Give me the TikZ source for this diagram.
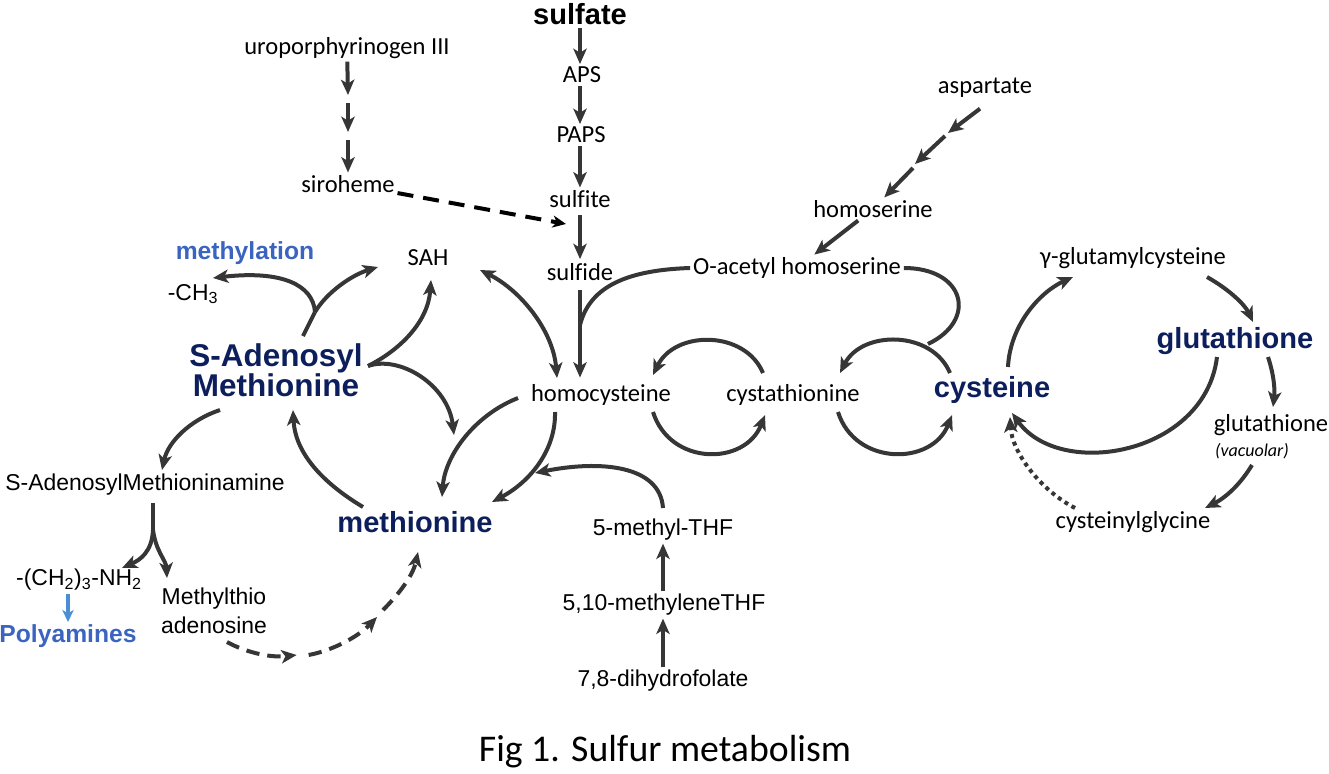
\documentclass[tikz,border=0pt]{standalone}
\usepackage{fontspec}
\setmainfont{Carlito}[Ligatures=NoCommon]
\newfontfamily\arial{Liberation Sans}
\usetikzlibrary{arrows.meta}
\definecolor{ln}{HTML}{363636}
\definecolor{navy}{HTML}{0C1E5B}
\definecolor{blu}{HTML}{3A64C0}
\definecolor{lblu}{HTML}{4A8ED6}
\begin{document}
\begin{tikzpicture}[x=0.75pt,y=-0.75pt,
  cal/.style={font=\fontsize{18.4}{20}\selectfont, inner sep=2pt},
  ari/.style={font=\arial\fontsize{17.2}{21.5}\selectfont, inner sep=2pt},
  big/.style={font=\arial\bfseries\fontsize{21.8}{22.5}\selectfont, text=navy, inner sep=2pt},
  bl/.style={font=\arial\bfseries\fontsize{18.5}{20}\selectfont, text=blu, inner sep=2pt},
  tip/.style={-{Stealth[length=11.5pt,width=10pt,inset=3pt]}},
  arr/.style={draw=ln, line width=3pt, tip},
  plain/.style={draw=ln, line width=3pt},
  dsh/.style={arr, dash pattern=on 10pt off 6pt},
  dsh2/.style={draw=black, line width=3pt, dash pattern=on 12pt off 7.5pt, -{Stealth[length=10pt,width=9pt,inset=3pt]}},
  dot/.style={arr, dash pattern=on 3pt off 3pt},
  barr/.style={draw=lblu, line width=2.6pt, -{Stealth[length=9pt,width=8.5pt,inset=2.5pt]}}
]
\useasboundingbox (0,0) rectangle (1329,774);

% ---- nodes ----
\node[font=\arial\bfseries\fontsize{21.8}{22}\selectfont, inner sep=2pt] (sulfate) at (580,14) {sulfate};
\node[cal] (aps) at (582,75) {APS};
\node[cal] (paps) at (581,135) {PAPS};
\node[cal] (sulfite) at (580,199) {sulfite};
\node[cal] (sulfide) at (580,272) {sulfide};
\node[cal] (uro) at (347,48) {uroporphyrinogen III};
\node[cal] (siro) at (348,184) {siroheme};
\node[cal] (asp) at (985,88) {aspartate};
\node[cal] (hser) at (873,209) {homoserine};
\node[cal] (oah) at (797,268) {O-acetyl homoserine};
\node[cal] (sah) at (428,258) {SAH};
\node[bl] (meth) at (245,253) {methylation};
\node[ari] (ch3) at (193,294) {-CH\textsubscript{3}};
\node[font=\arial\bfseries\fontsize{23.6}{22.5}\selectfont, text=navy, inner sep=2pt, align=center] (sam) at (276,370) {S-Adenosyl\\Methionine};
\node[cal] (hcy) at (601,395) {homocysteine};
\node[cal] (cth) at (793,395) {cystathionine};
\node[big] (cys) at (992,390) {cysteine};
\node[cal] (gec) at (1133,258) {γ-glutamylcysteine};
\node[big] (gsh) at (1235,341) {glutathione};
\node[cal] (gshv) at (1271,425) {glutathione};
\node[font=\itshape\fontsize{13.5}{15}\selectfont, inner sep=1pt] (vac) at (1252,451) {(vacuolar)};
\node[cal] (cgly) at (1133,522) {cysteinylglycine};
\node[ari] (sama) at (145,485) {S-AdenosylMethioninamine};
\node[big] (met) at (415,522) {methionine};
\node[ari] (nh2) at (79,580) {-(CH\textsubscript{2})\textsubscript{3}-NH\textsubscript{2}};
\node[bl] (poly) at (68,636) {Polyamines};
\node[ari, align=center] (mta) at (214,611) {Methylthio\\adenosine};
\node[ari] (mthf) at (663,530) {5-methyl-THF};
\node[ari] (mlthf) at (664,605) {5,10-methyleneTHF};
\node[ari] (dhf) at (663,681) {7,8-dihydrofolate};
\node[font=\fontsize{28.3}{30}\selectfont] (cap) at (665,752) {Fig 1. Sulfur metabolism};

% ---- sulfate column ----
\draw[arr] (sulfate.south) -- (sulfate.south |- aps.north);
\draw[arr] (sulfate.south |- aps.south) -- (sulfate.south |- paps.north);
\draw[arr] (sulfate.south |- paps.south) -- (sulfate.south |- sulfite.north);
\draw[arr, shorten <=3pt, shorten >=1pt] (sulfite.south) -- (sulfite.south |- sulfide.north);
\draw[arr, shorten <=5pt, shorten >=3pt] (sulfide.south) -- (sulfide.south |- hcy.north);

% ---- uroporphyrinogen chain ----
\coordinate (u1) at (348,99);
\coordinate (u2) at (348,136);
\draw[arr] (uro) -- ([yshift=3pt]u1);
\draw[arr] ([yshift=-3pt]u1) -- ([yshift=3pt]u2);
\draw[arr] ([yshift=-3pt]u2) -- (siro);
\coordinate (sfj) at (566,224);
\draw[dsh2] (siro) -- (sfj);

% ---- aspartate chain ----
\coordinate (a1) at (946,135);
\coordinate (a2) at (914,166);
\draw[arr] ([shift={(-5,8)}]asp.south) -- ([shift={(2,-2)}]a1);
\draw[arr] ([shift={(-1,1)}]a1) -- ([shift={(1,-2)}]a2);
\draw[arr] ([shift={(-1,2)}]a2) -- (hser);
\draw[arr] (hser) -- (oah);

% ---- O-acetyl homoserine joins ----
\coordinate (jh) at (580,325);
\draw[plain] (oah.west) .. controls (630,270) and (590,285) .. (jh);
\coordinate (jc) at (928,344);
\draw[plain] (oah.east) .. controls (965,268) and (978,320) .. (jc);

% ---- SAM branches ----
\coordinate (s0) at (303,336);
\coordinate (j1) at (315,312);
\draw[plain] (s0) -- (j1);
\draw[arr] (j1) .. controls (313,285) and (282,270) .. (213,278);
\draw[arr] (j1) .. controls (327,292) and (352,275) .. (378,267);
\coordinate (j2) at (368,366);
\draw[arr] (j2) .. controls (400,350) and (428,322) .. (431,280);
\draw[arr] (j2) .. controls (400,355) and (448,385) .. (454,435);

% ---- SAH <-> homocysteine ----
\draw[draw=ln, line width=3pt, {Stealth[length=11.5pt,width=10pt,inset=3pt]}-{Stealth[length=11.5pt,width=10pt,inset=3pt]}]
  (480,270) .. controls (520,290) and (553,330) .. (557,378);

% ---- homocysteine -> methionine ----
\draw[arr] (518,398) .. controls (475,415) and (445,455) .. (442,497);
\draw[arr] (555,412) .. controls (556,450) and (530,482) .. (492,502);
\draw[arr] (663,508) .. controls (660,465) and (600,460) .. (535,473);

% ---- methionine -> SAM ----
\draw[arr] (363,507) .. controls (318,480) and (295,450) .. (293,410);
% ---- SAM -> SAMA ----
\draw[arr] (220,410) .. controls (190,420) and (168,442) .. (162,470);
% ---- SAMA branches ----
\coordinate (j3) at (153,530);
\draw[plain] (153,503) -- (j3);
\draw[arr] (j3) .. controls (152,552) and (140,560) .. (122,568);
\draw[arr] (j3) .. controls (156,552) and (166,560) .. (167,578);
\draw[barr] (68,594) -- (68,622);

% ---- MTA -> methionine (dashed) ----
\coordinate (m1) at (302,655);
\coordinate (m2) at (380,614);
\draw[dsh] (227,642) .. controls (245,652) and (270,658) .. ([xshift=-4]m1);
\draw[dsh] ([xshift=5]m1) .. controls (335,650) and (360,635) .. ([shift={(-3,3)}]m2);
\draw[dsh] ([shift={(3,-4)}]m2) .. controls (400,593) and (413,575) .. (418,552);

% ---- THF column ----
\draw[arr] (dhf.north) -- (dhf.north |- mlthf.south);
\draw[arr] (dhf.north |- mlthf.north) -- (dhf.north |- mthf.south);

% ---- homocysteine / cystathionine ----
\draw[arr] (763,373) .. controls (745,330) and (675,330) .. (653,375);
\draw[arr] (653,412) .. controls (670,466) and (745,466) .. (765,415);
% ---- cystathionine / cysteine ----
\draw[arr] (950,373) .. controls (932,330) and (862,330) .. (840,373);
\draw[arr] (838,412) .. controls (855,466) and (932,466) .. (952,415);

% ---- glutathione cycle ----
\draw[arr] (1008,367) .. controls (1010,325) and (1040,292) .. (1073,277);
\draw[arr] (1207,277) .. controls (1230,290) and (1245,305) .. (1253,322);
\draw[arr] (1217,357) .. controls (1205,455) and (1060,480) .. (1012,413);
\draw[arr] (1268,357) .. controls (1274,375) and (1275,390) .. (1273,407);
\draw[arr] (1252,465) .. controls (1240,485) and (1225,498) .. (1205,508);
\draw[dot] (1075,508) .. controls (1040,490) and (1012,452) .. (1010,417);

\end{tikzpicture}
\end{document}
